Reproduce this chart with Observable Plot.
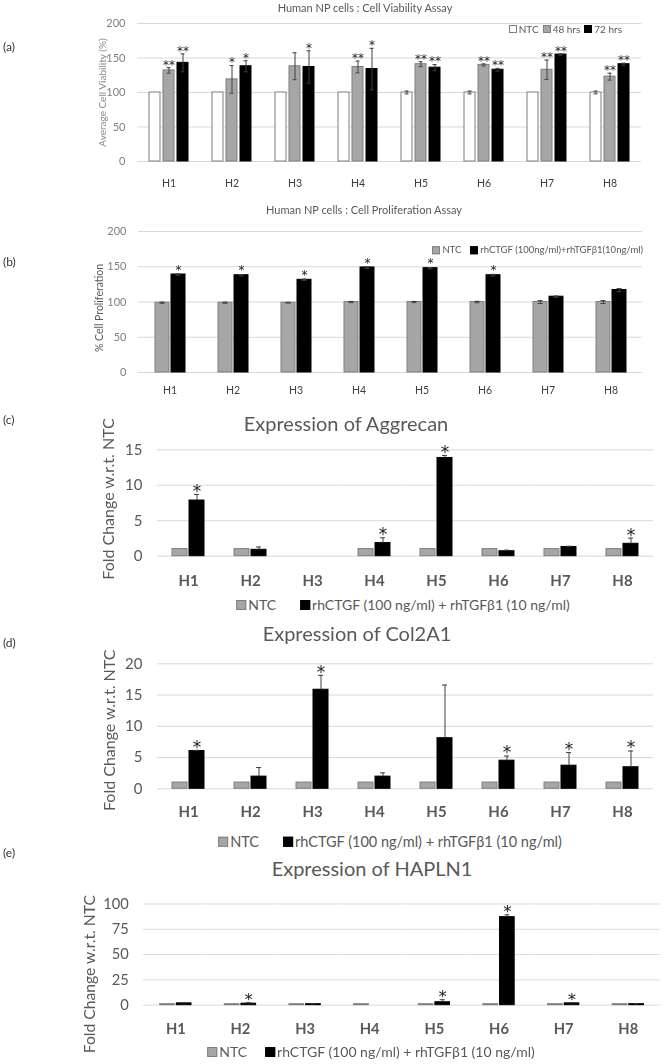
<!DOCTYPE html>
<html><head><meta charset="utf-8">
<script src="https://cdn.jsdelivr.net/npm/d3@7"></script>
<script src="https://cdn.jsdelivr.net/npm/@observablehq/plot@0.6"></script>
<style>
html,body{margin:0;padding:0;background:#fff;}
#root{position:relative;width:666px;height:1064px;overflow:hidden;font-family:Lato,"Open Sans",sans-serif;}
#root svg{position:absolute;left:0;will-change:transform;}
.ttl{position:absolute;transform:translate(-50%,-50%);white-space:nowrap;color:#595959;line-height:1;}
.lab{position:absolute;left:3px;transform:translateY(-50%);font-size:12px;color:#333;line-height:1;}
.leg{position:absolute;display:flex;align-items:center;white-space:nowrap;color:#595959;line-height:1;}
.sw{display:inline-block;box-sizing:border-box;}
</style></head><body><div id="root"></div>
<script>
// ---------- data ----------
const categories = ["H1","H2","H3","H4","H5","H6","H7","H8"];

// (a) Cell viability
const viabNTC    = [100,100,100,100,100,100,100,100];
const viabNTCErr = [0,0,0,0,2,2,0,2];
const viab48     = [132,119,138,137,141,140,133,123];
const viab48Err  = [4,20,19.5,8.5,3.5,1.5,14,5];
const viab48Sig  = ["**","*","","**","**","**","**","**"];
const viab72     = [143,138,137,134,136,133,155,141];
const viab72Err  = [13,8,23.5,30,4.5,2,1,1.5];
const viab72Sig  = ["**","*","*","*","**","**","**","**"];

// (b) Cell proliferation
const prolifNTC    = [99,99,99,100,100,100,100,100];
const prolifNTCErr = [0.8,0.8,0.5,0.8,0.8,1,2,2];
const prolifTrt    = [139,138,131.5,149,148,138,107.5,117];
const prolifTrtErr = [0.8,1,0.8,1,1,1.2,1,2];
const prolifSig    = ["*","*","*","*","*","*","",""];

// (c) Aggrecan
const acanNTC    = [1,1,null,1,1,1,1,1];
const acanTrt    = [7.85,0.9,null,1.85,13.85,0.7,1.3,1.75];
const acanTrtErr = [0.85,0.4,null,0.75,0.35,0.15,0.1,0.8];
const acanSig    = ["*","","","*","*","","","*"];

// (d) Col2A1
const col2NTC    = [1,1,1,1,1,1,1,1];
const col2Trt    = [6.05,1.95,15.85,1.95,8.1,4.5,3.7,3.45];
const col2TrtErr = [0.1,1.45,2.3,0.6,8.5,0.75,2.1,2.6];
const col2Sig    = ["*","","*","","","*","*","*"];

// (e) HAPLN1
const haplnNTC    = [1,1,1,1,1,1,1,1];
const haplnTrt    = [1.8,1.5,1.0,null,2.9,87,1.8,1.0];
const haplnTrtErr = [0.4,1.0,0.3,null,2.5,2.3,0.6,0.3];
const haplnSig    = ["","*","","","*","*","*",""];

const seriesA = ["NTC","48 hrs","72 hrs"];
const seriesB = ["NTC","rhCTGF (100ng/ml)+rhTGFβ1(10ng/ml)"];
const seriesC = ["NTC","rhCTGF (100 ng/ml) + rhTGFβ1 (10 ng/ml)"];

// ---------- helpers ----------
const root = document.getElementById("root");
function rowsOf(series, values, errs, sigs) {
  return categories.map((cat, i) => ({
    cat, series, value: values[i],
    err: errs ? (errs[i] ?? 0) : 0,
    sig: sigs ? sigs[i] : ""
  }));
}
function addText(cls, txt, x, y, size) {
  const d = document.createElement("div");
  d.className = cls; d.textContent = txt;
  d.style.top = y + "px";
  if (x != null) d.style.left = x + "px";
  if (size) d.style.fontSize = size + "px";
  root.appendChild(d);
}
function addLegend(items, {x, y, align, size, sw, gap, inner}) {
  const d = document.createElement("div");
  d.className = "leg";
  d.style.fontSize = size + "px";
  d.style.top = y + "px";
  if (align === "right") { d.style.right = (666 - x) + "px"; d.style.transform = "translateY(-50%)"; }
  else { d.style.left = x + "px"; d.style.transform = "translate(-50%,-50%)"; }
  items.forEach((it, i) => {
    const s = document.createElement("span");
    s.className = "sw";
    s.style.width = sw + "px"; s.style.height = sw + "px";
    s.style.background = it.fill; s.style.border = "1px solid " + it.stroke;
    s.style.marginRight = inner + "px";
    if (i > 0) s.style.marginLeft = gap + "px";
    const t = document.createElement("span");
    t.textContent = it.label;
    d.appendChild(s); d.appendChild(t);
  });
  root.appendChild(d);
}

function panel(cfg) {
  const {top, width, left, right, mTop, plotH, mBottom, yDomain, yTicks, series, styles,
         padIn, padOut, rows, both, tickFont, tickPad, tickFill, xFont, xWeight, xPad, xFill,
         starFont, starDy, yLabel, labelX, labelDy, labelFont, labelFill, capInset} = cfg;
  const errs = rows.filter(d => d.value != null && d.err > 0);
  const sigs = rows.filter(d => d.value != null && d.sig);
  const marks = [
    Plot.gridY(yTicks, {stroke: "#d9d9d9", strokeOpacity: 1})
  ];
  series.forEach((s, i) => {
    marks.push(Plot.barY(rows.filter(d => d.series === s),
      {fx: "cat", x: "series", y: "value", fill: styles[i].fill, stroke: styles[i].stroke, strokeWidth: 1}));
  });
  marks.push(
    Plot.ruleX(errs, {fx: "cat", x: "series", y1: d => both ? d.value - d.err : d.value, y2: d => d.value + d.err, stroke: "#404040", strokeWidth: 1}),
    Plot.tickY(errs, {fx: "cat", x: "series", y: d => d.value + d.err, stroke: "#404040", strokeWidth: 1, insetLeft: capInset, insetRight: capInset})
  );
  if (both) marks.push(
    Plot.tickY(errs, {fx: "cat", x: "series", y: d => d.value - d.err, stroke: "#404040", strokeWidth: 1, insetLeft: capInset, insetRight: capInset})
  );
  marks.push(
    Plot.text(sigs, {fx: "cat", x: "series", y: d => d.value + d.err, text: "sig", fontSize: starFont,
      fontFamily: "'DejaVu Sans', sans-serif", fill: "#222", lineAnchor: "middle", dy: starDy}),
    Plot.axisY(yTicks, {tickSize: 0, tickPadding: tickPad, fontSize: tickFont, fill: tickFill, label: null}),
    Plot.axisFx({anchor: "bottom", tickSize: 0, tickPadding: xPad, fontSize: xFont, fontWeight: xWeight, fill: xFill, label: null}),
    Plot.text([{cat: categories[0]}], {fx: "cat", text: () => yLabel, frameAnchor: "left", rotate: -90,
      textAnchor: "middle", lineAnchor: "middle", dx: labelX - left, dy: labelDy, fontSize: labelFont, fill: labelFill})
  );
  const svg = Plot.plot({
    width, height: mTop + plotH + mBottom,
    marginLeft: left, marginRight: width - right, marginTop: mTop, marginBottom: mBottom,
    style: {fontFamily: "Lato, 'Open Sans', sans-serif", background: "transparent", overflow: "visible"},
    fx: {domain: categories, padding: 0, label: null},
    x: {domain: series, paddingInner: padIn, paddingOuter: padOut, axis: null},
    y: {domain: yDomain},
    marks
  });
  svg.style.top = top + "px";
  root.appendChild(svg);
}

const gray = {fill: "#a6a6a6", stroke: "#7f7f7f"};
const black = {fill: "#000", stroke: "#000"};
const white = {fill: "#fff", stroke: "#7f7f7f"};

// ---------- (a) ----------
panel({
  top: 0, width: 666, left: 135, right: 643, mTop: 23, plotH: 138, mBottom: 35,
  yDomain: [0, 200], yTicks: [0, 50, 100, 150, 200],
  series: seriesA, styles: [white, gray, black], padIn: 0.19, padOut: 0.83,
  rows: [
    ...rowsOf(seriesA[0], viabNTC, viabNTCErr, null),
    ...rowsOf(seriesA[1], viab48, viab48Err, viab48Sig),
    ...rowsOf(seriesA[2], viab72, viab72Err, viab72Sig)
  ],
  both: true, tickFont: 11, tickPad: 12, tickFill: "#808080",
  xFont: 10.5, xWeight: "normal", xPad: 18, xFill: "#404040",
  starFont: 12, starDy: -3, yLabel: "Average Cell Viability (%)", labelX: 100, labelDy: 0,
  labelFont: 10, labelFill: "#8a8a8a", capInset: 3.5
});
addText("ttl", "Human NP cells : Cell Viability Assay", 365, 7, 11);
addText("lab", "(a)", null, 47);
addLegend([
  {label: "NTC", ...white}, {label: "48 hrs", ...gray}, {label: "72 hrs", ...black}
], {x: 622, y: 29, align: "right", size: 10, sw: 8, gap: 4, inner: 2});

// ---------- (b) ----------
panel({
  top: 200, width: 666, left: 134, right: 645, mTop: 31, plotH: 141, mBottom: 28,
  yDomain: [0, 200], yTicks: [0, 50, 100, 150, 200],
  series: seriesB, styles: [gray, black], padIn: 0.15, padOut: 0.95,
  rows: [
    ...rowsOf(seriesB[0], prolifNTC, prolifNTCErr, null),
    ...rowsOf(seriesB[1], prolifTrt, prolifTrtErr, prolifSig)
  ],
  both: true, tickFont: 11, tickPad: 12, tickFill: "#808080",
  xFont: 10.5, xWeight: "normal", xPad: 14, xFill: "#404040",
  starFont: 12, starDy: -4, yLabel: "% Cell Proliferation", labelX: 95, labelDy: 6,
  labelFont: 10.5, labelFill: "#595959", capInset: 4.5
});
addText("ttl", "Human NP cells : Cell Proliferation Assay", 364, 209, 11);
addText("lab", "(b)", null, 262);
addLegend([
  {label: "NTC", ...gray}, {label: seriesB[1], ...black}
], {x: 643, y: 250, align: "right", size: 9.5, sw: 8, gap: 9, inner: 2});

// ---------- (c) ----------
panel({
  top: 430, width: 666, left: 155, right: 655, mTop: 19.3, plotH: 106.4, mBottom: 35,
  yDomain: [0, 15], yTicks: [0, 5, 10, 15],
  series: seriesC, styles: [gray, black], padIn: 0.14, padOut: 0.8,
  rows: [
    ...rowsOf(seriesC[0], acanNTC, null, null),
    ...rowsOf(seriesC[1], acanTrt, acanTrtErr, acanSig)
  ],
  both: false, tickFont: 15, tickPad: 15, tickFill: "#595959",
  xFont: 15, xWeight: "bold", xPad: 19, xFill: "#595959",
  starFont: 17, starDy: -3, yLabel: "Fold Change w.r.t. NTC", labelX: 106, labelDy: -4,
  labelFont: 16, labelFill: "#595959", capInset: 5
});
addText("ttl", "Expression of Aggrecan", 346, 423, 20);
addText("lab", "(c)", null, 420);
addLegend([
  {label: "NTC", ...gray}, {label: seriesC[1], ...black}
], {x: 403, y: 605, align: "center", size: 14, sw: 10, gap: 24, inner: 2});

// ---------- (d) ----------
panel({
  top: 640, width: 666, left: 155, right: 655, mTop: 23.3, plotH: 125, mBottom: 33,
  yDomain: [0, 20], yTicks: [0, 5, 10, 15, 20],
  series: seriesC, styles: [gray, black], padIn: 0.14, padOut: 0.8,
  rows: [
    ...rowsOf(seriesC[0], col2NTC, null, null),
    ...rowsOf(seriesC[1], col2Trt, col2TrtErr, col2Sig)
  ],
  both: false, tickFont: 15, tickPad: 15, tickFill: "#595959",
  xFont: 15, xWeight: "bold", xPad: 18, xFill: "#595959",
  starFont: 17, starDy: -3, yLabel: "Fold Change w.r.t. NTC", labelX: 107, labelDy: 4,
  labelFont: 16, labelFill: "#595959", capInset: 5
});
addText("ttl", "Expression of Col2A1", 357, 633, 20);
addText("lab", "(d)", null, 643);
addLegend([
  {label: "NTC", ...gray}, {label: seriesC[1], ...black}
], {x: 390, y: 842, align: "center", size: 14.5, sw: 10, gap: 24, inner: 2});

// ---------- (e) ----------
panel({
  top: 880, width: 680, left: 143, right: 676, mTop: 24, plotH: 103.3, mBottom: 36,
  yDomain: [0, 100], yTicks: [0, 25, 50, 75, 100],
  series: seriesC, styles: [gray, black], padIn: 0.11, padOut: 0.9,
  rows: [
    ...rowsOf(seriesC[0], haplnNTC, null, null),
    ...rowsOf(seriesC[1], haplnTrt, haplnTrtErr, haplnSig)
  ],
  both: false, tickFont: 15, tickPad: 15, tickFill: "#595959",
  xFont: 15, xWeight: "bold", xPad: 19, xFill: "#595959",
  starFont: 17, starDy: -3, yLabel: "Fold Change w.r.t. NTC", labelX: 88, labelDy: 20,
  labelFont: 16, labelFill: "#595959", capInset: 5
});
addText("ttl", "Expression of HAPLN1", 372, 868, 20);
addText("lab", "(e)", null, 853);
addLegend([
  {label: "NTC", ...gray}, {label: seriesC[1], ...black}
], {x: 371, y: 1052, align: "center", size: 14, sw: 10, gap: 18, inner: 2});
</script></body></html>
